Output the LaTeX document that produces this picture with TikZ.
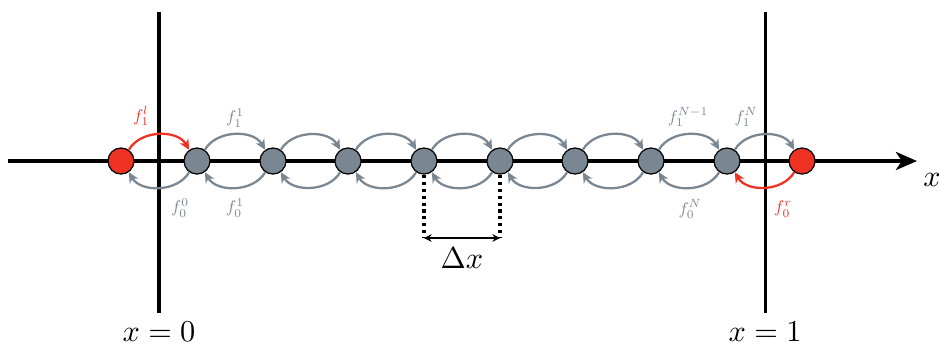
\documentclass[tikz,border=0pt]{standalone}
\usetikzlibrary{arrows.meta}
\definecolor{slate}{RGB}{122,134,145}
\definecolor{myred}{RGB}{238,51,36}
\newcommand{\smalllab}[1]{\scalebox{0.56}{$#1$}}
\begin{document}
\begin{tikzpicture}[x=0.33pt,y=-0.33pt,
  pt/.style={circle,draw=black,line width=0.4pt,minimum size=8.6pt,inner sep=0pt},
  grey/.style={pt,fill=slate},
  red/.style={pt,fill=myred},
  hop/.style={line width=0.75pt,-{Stealth[length=3.4pt,width=3.2pt,inset=1pt]}},
  lab/.style={inner sep=1pt},
  axisline/.style={line width=1pt}]
\useasboundingbox (0,0) rectangle (939,344);
\draw[axisline,-{Stealth[length=7pt,width=6pt,inset=2pt]}] (8,161) -- (917,161);
\draw[axisline] (159,12) -- (159,313);
\draw[axisline] (765,12) -- (765,313);
\node[red] (n0) at (121,161) {};
\foreach \i/\xx in {1/197,2/273,3/348,4/424,5/500,6/575,7/651,8/727} {
  \node[grey] (n\i) at (\xx,161) {};
}
\node[red] (n9) at (802,161) {};
% top arcs
\draw[hop,myred] (n0.55) to[out=60,in=120] (n1.125);
\foreach \i [evaluate=\i as \j using int(\i+1)] in {1,...,8} {
  \draw[hop,slate] (n\i.55) to[out=60,in=120] (n\j.125);
}
% bottom arcs
\foreach \i [evaluate=\i as \j using int(\i+1)] in {0,...,7} {
  \draw[hop,slate] (n\j.-125) to[out=-120,in=-60] (n\i.-55);
}
\draw[hop,myred] (n9.-125) to[out=-120,in=-60] (n8.-55);
% labels
\node[lab,text=myred] (l1) at (141,116) {\smalllab{f_1^l}};
\node[lab,text=slate] (l2) at (235,118) {\smalllab{f_1^1}};
\node[lab,text=slate] (l3) at (688,117) {\smalllab{f_1^{N-1}}};
\node[lab,text=slate] (l4) at (746,117) {\smalllab{f_1^N}};
\node[lab,text=slate] (l5) at (180,208) {\smalllab{f_0^0}};
\node[lab,text=slate] (l6) at (235,208) {\smalllab{f_0^1}};
\node[lab,text=slate] (l7) at (690,209) {\smalllab{f_0^N}};
\node[lab,text=myred] (l8) at (783,209) {\smalllab{f_0^r}};
% delta x
\coordinate (d4) at (424,238);
\coordinate (d5) at (500,238);
\draw[line width=1pt,dash pattern=on 1pt off 1.3pt] (n4.south) -- (d4);
\draw[line width=1pt,dash pattern=on 1pt off 1.3pt] (n5.south) -- (d5);
\draw[line width=0.4pt,{Stealth[length=2.5pt,width=2.5pt]}-{Stealth[length=2.5pt,width=2.5pt]}] (d4) -- (d5);
\node (dx) at (462,258) {$\Delta x$};
\node (xl) at (932,180) {$x$};
\node (x0) at (159,332) {$x=0$};
\node (x1) at (765,332) {$x=1$};
\end{tikzpicture}
\end{document}
